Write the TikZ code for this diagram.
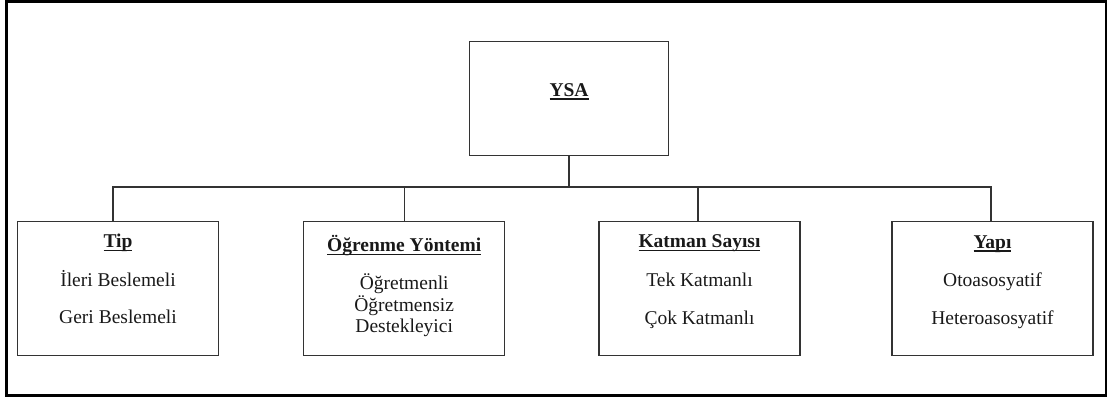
\documentclass[tikz,border=0pt]{standalone}
\usepackage{fontspec}
\setmainfont{Liberation Serif}
\usetikzlibrary{positioning}
% underlined bold heading, line drawn close under the baseline
\newcommand{\ulhead}[1]{\setbox0\hbox{\textbf{#1}}\rlap{\rule[-3.2pt]{\wd0}{1.5pt}}\box0}
\tikzset{
	kutu/.style={draw=black!80,line width=1.1pt,minimum width=201pt,minimum height=134pt,inner sep=0pt},
	ustkutu/.style={kutu,minimum width=199pt,minimum height=113.6pt},
	yazi/.style={anchor=base,inner sep=0pt,text=black!90,font=\fontsize{19.5}{22}\selectfont},
	baglanti/.style={draw=black!80,line width=1.1pt},
}
\begin{document}
\begin{tikzpicture}[x=1pt,y=-1pt]
	\useasboundingbox (0,0) rectangle (1113,398) ;
	%Cerceve
	\draw [line width=2.8pt]	(6.4,1.4)	rectangle (1106,395.8) ;
	%Kutular
	\node [ustkutu]	(ysa)		at (569,98.5)	{} ;
	\node [kutu]	(tip)		at (118,288.5)	{} ;
	\node [kutu]	(ogrenme)	at (404.2,288.5)	{} ;
	\node [kutu]	(katman)	at (699.5,288.5)	{} ;
	\node [kutu]	(yapi)		at (992.5,288.5)	{} ;
	%Basliklar
	\node [yazi]	(ysah)		at ([yshift=1.8pt]ysa.center)		{\ulhead{YSA}} ;
	\node [yazi]	(tiph)		at ([yshift=-27pt]tip.north)		{\ulhead{Tip}} ;
	\node [yazi]	(ogrenmeh)	at ([yshift=-31pt]ogrenme.north)	{\ulhead{Öğrenme Yöntemi}} ;
	\node [yazi]	(katmanh)	at ([yshift=-27pt]katman.north)		{\ulhead{Katman Sayısı}} ;
	\node [yazi]	(yapih)		at ([yshift=-27.5pt]yapi.north)		{\ulhead{Yapı}} ;
	%Maddeler
	\node [yazi]	(tip1)		at ([yshift=-65.3pt]tip.north)		{İleri Beslemeli} ;
	\node [yazi]	(tip2)		at ([yshift=-103pt]tip.north)		{Geri Beslemeli} ;
	\node [yazi]	(ogrenme1)	at ([yshift=-68.5pt]ogrenme.north)	{Öğretmenli} ;
	\node [yazi]	(ogrenme2)	at ([yshift=-90.2pt]ogrenme.north)	{Öğretmensiz} ;
	\node [yazi]	(ogrenme3)	at ([yshift=-111.8pt]ogrenme.north)	{Destekleyici} ;
	\node [yazi]	(katman1)	at ([yshift=-65.5pt]katman.north)	{Tek Katmanlı} ;
	\node [yazi]	(katman2)	at ([yshift=-103.5pt]katman.north)	{Çok Katmanlı} ;
	\node [yazi]	(yapi1)		at ([yshift=-65.5pt]yapi.north)		{Otoasosyatif} ;
	\node [yazi]	(yapi2)		at ([yshift=-103.5pt]yapi.north)	{Heteroasosyatif} ;
	%Baglantilar
	\coordinate (bus) at (569,187) ;
	\draw [baglanti]	(ysa.south)		-- (bus) ;
	\draw [baglanti]	([xshift=-5pt]tip.north)	|- (bus) -| ([xshift=-1.5pt]yapi.north) ;
	\draw [baglanti]	(ogrenme.north)	-- (ogrenme.north |- bus) ;
	\draw [baglanti]	([xshift=-1.5pt]katman.north)	-- ([xshift=-1.5pt]katman.north |- bus) ;
\end{tikzpicture}
\end{document}
